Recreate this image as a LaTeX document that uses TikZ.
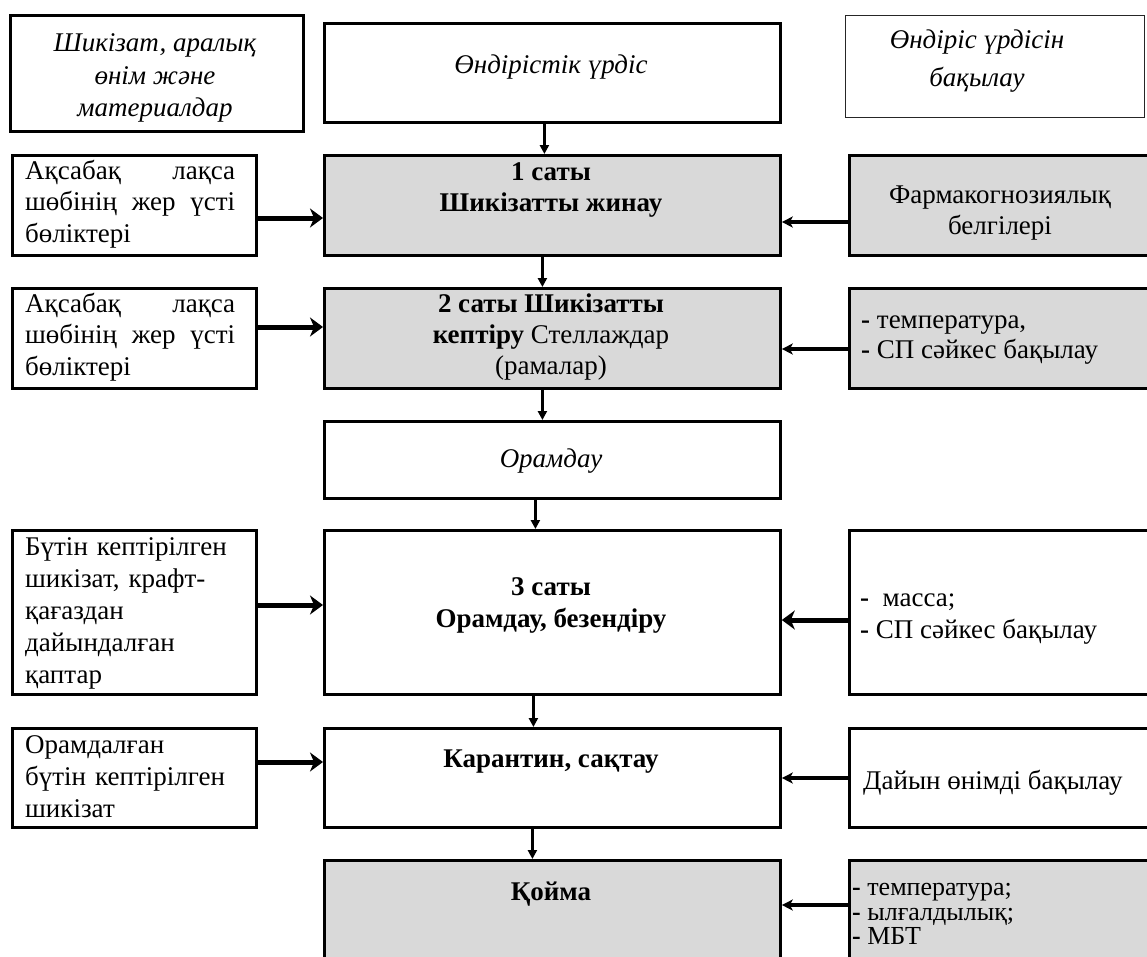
\documentclass[tikz,border=0pt]{standalone}
\usepackage{fontspec}
\setmainfont{Liberation Serif}
\usetikzlibrary{arrows.meta}
\definecolor{boxgray}{HTML}{D9D9D9}
\begin{document}
\begin{tikzpicture}[x=1pt,y=-1pt,
  box/.style={draw=black, line width=2.8pt, rectangle, inner sep=0pt, anchor=north west},
  thinbox/.style={box, line width=1.4pt, draw=black!85},
  graybox/.style={box, fill=boxgray},
  txt/.style={inner sep=0pt, font=\fontsize{27}{31}\selectfont, align=center},
  itxt/.style={txt, font=\fontsize{27}{32.5}\itshape},
  ltxt/.style={inner sep=0pt, font=\fontsize{27}{31.5}\selectfont, text width=210pt, align=left, anchor=west},
  rtxt/.style={inner sep=0pt, font=\fontsize{27}{30}\selectfont, align=left, anchor=west},
  inarr/.style={line width=5pt, -{Stealth[length=13pt,width=19pt,inset=4pt]}},
  ctlarr/.style={line width=3.5pt, -{Stealth[length=11pt,width=11pt,inset=3pt]}},
  downarr/.style={line width=3pt, -{Triangle[length=9pt,width=9pt]}}
]
\useasboundingbox (0,0) rectangle (1147,956);
\clip (0,0) rectangle (1147,956);

% column headers
\node[box, minimum width=293pt, minimum height=116pt] (tl) at (9,14) {};
\node[box, minimum width=456pt, minimum height=99pt] (tc) at (323,22) {};
\node[thinbox, minimum width=299pt, minimum height=102pt] (tr) at (845,15) {};
\node[itxt] (tlt) at (155,78) {Шикізат, аралық\\өнім және\\материалдар};
\node[itxt] (tct) at (551,67) {Өндірістік үрдіс};
\node[itxt, font=\fontsize{27}{38}\itshape] (trt) at (977,61) {Өндіріс үрдісін\\бақылау};

% stage 1
\node[box, line width=2.5pt, minimum width=244pt, minimum height=100pt] (l1) at (11,154) {};
\node[graybox, minimum width=456pt, minimum height=100pt] (s1) at (323,154) {};
\node[graybox, minimum width=340pt, minimum height=100pt] (r1) at (848,154) {};
\node[ltxt] (l1t) at (25,204) {Ақсабақ\hfill лақса\\шөбінің\hfill жер\hfill үсті\\бөліктері};
\node[txt, font=\fontsize{27}{31}\bfseries] (s1t) at (551,190) {1 саты\\Шикізатты жинау};
\node[txt, font=\fontsize{27}{31}\selectfont] (r1t) at (1000,213) {Фармакогнозиялық\\белгілері};

% stage 2
\node[box, line width=2.5pt, minimum width=244pt, minimum height=100pt] (l2) at (11,287) {};
\node[graybox, minimum width=456pt, minimum height=100pt] (s2) at (323,287) {};
\node[graybox, minimum width=340pt, minimum height=100pt] (r2) at (848,287) {};
\node[ltxt] (l2t) at (25,337) {Ақсабақ\hfill лақса\\шөбінің\hfill жер\hfill үсті\\бөліктері};
\node[txt] (s2t) at (551,337) {\textbf{2 саты Шикізатты}\\\textbf{кептіру} Стеллаждар\\(рамалар)};
\node[rtxt] (r2t) at (861,340) {\textbf{-} температура,\\\textbf{-} СП сәйкес бақылау};

% packing
\node[box, minimum width=456pt, minimum height=77pt] (op) at (323,420) {};
\node[itxt] (opt) at (551,461) {Орамдау};

% stage 3
\node[box, line width=2.5pt, minimum width=244pt, minimum height=164pt] (l3) at (11,529) {};
\node[box, minimum width=456pt, minimum height=164pt] (s3) at (323,529) {};
\node[box, minimum width=340pt, minimum height=164pt] (r3) at (848,529) {};
\node[ltxt, font=\fontsize{27}{32}\selectfont] (l3t) at (25,613) {Бүтін кептірілген\\шикізат, крафт-\\қағаздан\\дайындалған\\қаптар};
\node[txt, font=\fontsize{27}{32}\bfseries] (s3t) at (551,605) {3 саты\\Орамдау, безендіру};
\node[rtxt, font=\fontsize{27}{32}\selectfont] (r3t) at (860,619) {\textbf{-}\ \ масса;\\\textbf{-} СП сәйкес бақылау};

% quarantine
\node[box, line width=2.5pt, minimum width=244pt, minimum height=99pt] (l4) at (11,727) {};
\node[box, minimum width=456pt, minimum height=99pt] (s4) at (323,727) {};
\node[box, minimum width=340pt, minimum height=99pt] (r4) at (848,727) {};
\node[ltxt, font=\fontsize{27}{32}\selectfont] (l4t) at (25,777) {Орамдалған\\бүтін кептірілген\\шикізат};
\node[txt, font=\fontsize{27}{31}\bfseries] (s4t) at (551,762) {Карантин, сақтау};
\node[rtxt] (r4t) at (863,783) {Дайын өнімді бақылау};

% storage
\node[graybox, minimum width=456pt, minimum height=160pt] (s5) at (323,859) {};
\node[graybox, minimum width=340pt, minimum height=160pt] (r5) at (848,859) {};
\node[txt, font=\fontsize{27}{31}\bfseries] (s5t) at (551,894) {Қойма};
\node[rtxt, font=\fontsize{26}{24.5}\selectfont] (r5t) at (852,914) {\textbf{-} температура;\\\textbf{-} ылғалдылық;\\\textbf{-} МБТ};

% main flow
\draw[downarr] ([xshift=-8pt]tc.south) -- ([xshift=-8pt]s1.north);
\draw[downarr] ([xshift=-10pt]s1.south) -- ([xshift=-10pt]s2.north);
\draw[downarr] ([xshift=-10pt]s2.south) -- ([xshift=-10pt]op.north);
\draw[downarr] ([xshift=-17pt]op.south) -- ([xshift=-17pt]s3.north);
\draw[downarr] ([xshift=-19pt]s3.south) -- ([xshift=-19pt]s4.north);
\draw[downarr] ([xshift=-20pt]s4.south) -- ([xshift=-20pt]s5.north);

% inputs from the left
\draw[inarr] ([yshift=-64pt]l1.north east) -- ([yshift=-64pt]s1.north west);
\draw[inarr] ([yshift=-40pt]l2.north east) -- ([yshift=-40pt]s2.north west);
\draw[inarr] ([yshift=-76pt]l3.north east) -- ([yshift=-76pt]s3.north west);
\draw[inarr] ([yshift=-35pt]l4.north east) -- ([yshift=-35pt]s4.north west);

% controls from the right
\draw[ctlarr] ([yshift=-68pt]r1.north west) -- ([yshift=-68pt]s1.north east);
\draw[ctlarr] ([yshift=-62pt]r2.north west) -- ([yshift=-62pt]s2.north east);
\draw[inarr] ([yshift=-91pt]r3.north west) -- ([yshift=-91pt]s3.north east);
\draw[ctlarr, line width=4pt] ([yshift=-51pt]r4.north west) -- ([yshift=-51pt]s4.north east);
\draw[ctlarr, line width=4.5pt] ([yshift=-46pt]r5.north west) -- ([yshift=-46pt]s5.north east);
\end{tikzpicture}
\end{document}
